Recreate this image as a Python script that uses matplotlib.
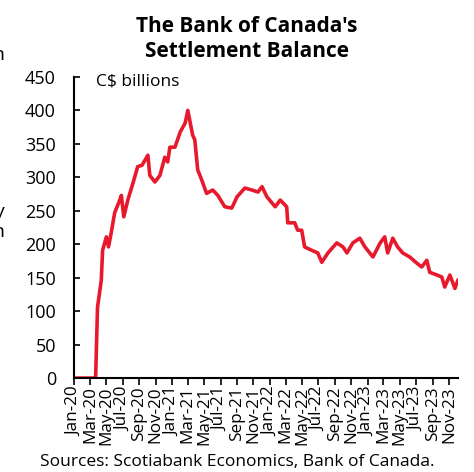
import matplotlib
matplotlib.use("Agg")
import matplotlib.pyplot as plt
import pandas as pd

plt.rcParams['font.family'] = ['Open Sans', 'DejaVu Sans']

# settlement balance, C$ billions
dates = [
    "2020-01-01", "2020-03-15", "2020-03-22", "2020-03-29", "2020-04-12", "2020-04-17",
    "2020-05-01", "2020-05-09", "2020-05-19", "2020-06-01", "2020-06-20", "2020-06-26",
    "2020-07-05", "2020-07-20", "2020-08-08", "2020-08-26", "2020-09-11", "2020-10-03",
    "2020-10-10", "2020-10-29", "2020-11-17", "2020-12-05", "2020-12-16", "2020-12-24",
    "2021-01-12", "2021-02-01", "2021-02-19", "2021-03-01", "2021-03-19", "2021-03-27",
    "2021-04-07", "2021-04-22", "2021-05-10", "2021-06-02", "2021-06-21", "2021-07-17",
    "2021-08-12", "2021-09-01", "2021-09-30", "2021-10-26", "2021-11-18", "2021-12-03",
    "2021-12-21", "2022-01-21", "2022-02-09", "2022-03-05", "2022-03-09", "2022-04-04",
    "2022-04-15", "2022-04-30", "2022-05-11", "2022-06-06", "2022-06-29", "2022-07-14",
    "2022-08-06", "2022-09-08", "2022-10-01", "2022-10-16", "2022-11-07", "2022-12-03",
    "2022-12-22", "2023-01-21", "2023-02-17", "2023-03-06", "2023-03-17", "2023-04-05",
    "2023-04-23", "2023-05-12", "2023-06-07", "2023-07-03", "2023-07-22", "2023-08-10",
    "2023-08-21", "2023-09-17", "2023-10-05", "2023-10-16", "2023-11-04", "2023-11-23",
    "2023-12-04",
]
balance = [
    0, 0, 2, 106, 146, 191,
    211, 196, 217, 247, 266, 273,
    241, 266, 291, 316, 318, 333,
    303, 293, 303, 330, 323, 345,
    345, 368, 381, 400, 363, 356,
    311, 296, 276, 281, 273, 256,
    254, 271, 284, 281, 278, 286,
    271, 256, 266, 256, 232, 232,
    221, 221, 196, 191, 187, 173,
    187, 202, 196, 187, 202, 209,
    196, 181, 202, 211, 187, 209,
    196, 187, 181, 172, 166, 176,
    158, 154, 151, 136, 154, 134,
    146,
]
yticks = [0, 50, 100, 150, 200, 250, 300, 350, 400, 450]

x = pd.to_datetime(dates)

fig = plt.figure(figsize=(4.74, 4.72), dpi=100)
ax = fig.add_axes([0.156, 0.199, 0.81, 0.638])

ax.plot(x, balance, color="#E8192C", linewidth=2.6, solid_joinstyle="round")

ax.set_ylim(0, 450)
ax.set_yticks(yticks)
ax.set_xlim(pd.Timestamp("2020-01-01"), pd.Timestamp("2023-12-04"))

ticks = pd.date_range("2020-01-01", "2023-11-01", freq="2MS")
ax.set_xticks(ticks)
ax.set_xticklabels([t.strftime("%b-%y") for t in ticks], rotation=90, fontsize=12.3)
ax.tick_params(axis="x", direction="out", length=5, width=1.2, pad=1)
ax.tick_params(axis="y", direction="in", length=4, width=1.2, labelsize=13, pad=13)

for s in ["top", "right"]:
    ax.spines[s].set_visible(False)
for s in ["left", "bottom"]:
    ax.spines[s].set_linewidth(1.5)

ax.text(0.057, 0.985, "C$ billions", transform=ax.transAxes, fontsize=12.5, va="center", ha="left")

fig.text(0.521, 0.918, "The Bank of Canada's\nSettlement Balance", ha="center", va="center",
         fontsize=15, fontweight="bold", linespacing=1.25)
fig.text(0.5, 0.022, "Sources: Scotiabank Economics, Bank of Canada.", ha="center", va="center",
         fontsize=12.5)

# cut-off text from the neighbouring panel
for ypx, ch in [(55, "n"), (212, "y"), (232, "n")]:
    fig.text(4 / 474, 1 - ypx / 472, ch, ha="right", va="center", fontsize=14)

fig.savefig("out.png", dpi=100)
